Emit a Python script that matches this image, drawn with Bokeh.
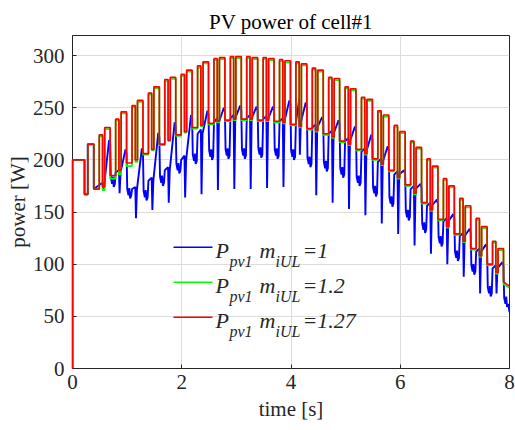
from bokeh.plotting import figure
from bokeh.models import Range1d, FixedTicker, Label
from bokeh.embed import file_html
from bokeh.resources import INLINE

# ---------------- data ----------------
# switching pairs: each pair = a narrow pulse then a wide pulse [s]
narrow_on  = [0.00, 0.49, 0.79, 1.09, 1.39, 1.69, 1.99, 2.29, 2.59, 2.89, 3.19, 3.49, 3.79,
              4.09, 4.39, 4.69, 4.99, 5.29, 5.59, 5.89, 6.19, 6.49, 6.79, 7.09, 7.39, 7.69]
narrow_off = [0.22, 0.55, 0.85, 1.15, 1.45, 1.75, 2.05, 2.35, 2.65, 2.95, 3.25, 3.55, 3.85,
              4.15, 4.45, 4.75, 5.05, 5.35, 5.65, 5.95, 6.25, 6.55, 6.85, 7.15, 7.45, 7.75]
wide_on    = [0.28, 0.59, 0.89, 1.19, 1.49, 1.79, 2.09, 2.39, 2.69, 2.99, 3.29, 3.59, 3.89,
              4.19, 4.49, 4.79, 5.09, 5.39, 5.69, 5.99, 6.29, 6.59, 6.89, 7.19, 7.49, 7.79]
wide_off   = [0.39, 0.69, 0.99, 1.29, 1.59, 1.89, 2.19, 2.49, 2.79, 3.09, 3.39, 3.69, 3.99,
              4.29, 4.59, 4.89, 5.19, 5.49, 5.79, 6.09, 6.39, 6.69, 6.99, 7.29, 7.59, 7.89]
t_end = 8.0

# m_iUL = 1.27 (red) [W]
red_narrow_top = [200, 224, 239, 252, 264, 277, 282, 290, 297, 299, 299, 298, 296,
                  294, 288, 279, 270, 260, 247, 233, 218, 201, 182, 163, 144, 122]
red_mid_low    = [167, 174, 190, 200, 210, 219, 227, 233, 237, 239, 239, 238, 236,
                  232, 228, 222, 215, 206, 196, 183, 168, 152, 136, 122, 108, 92]
red_wide_top   = [215, 231, 246, 257, 270, 279, 286, 294, 298, 299, 298, 297, 295,
                  292, 286, 278, 268, 258, 243, 227, 212, 194, 175, 156, 136, 115]
red_low        = [172, 185, 197, 206, 215, 224, 231, 235, 238, 239, 238, 237, 234,
                  230, 225, 218, 210, 201, 190, 176, 159, 143, 129, 115, 100, 83]
red_end = 79

# m_iUL = 1.2 (green) [W]
green_narrow_top = [200, 222.5, 237.5, 250.5, 262.5, 275.5, 280.5, 288.5, 295.5, 297.5, 297.5, 296.5, 294.5,
                    292.5, 286.5, 277.5, 268.5, 258.5, 245.5, 231.5, 216.5, 199.5, 180.5, 161.5, 142.5, 120.5]
green_mid_low    = [167, 171, 186, 198, 209, 218, 226, 232, 236, 238, 238, 237, 235,
                    231, 227, 221, 214, 205, 195, 182, 167, 151, 135, 121, 107, 91]
green_wide_top   = [215, 229.5, 244.5, 255.5, 268.5, 277.5, 284.5, 292.5, 296.5, 297.5, 296.5, 295.5, 293.5,
                    290.5, 284.5, 276.5, 266.5, 256.5, 241.5, 225.5, 210.5, 192.5, 173.5, 154.5, 134.5, 113.5]
green_low        = [172, 182, 194, 205, 214, 223, 230, 234, 237, 238, 237, 236, 233,
                    229, 224, 217, 209, 200, 189, 175, 158, 142, 128, 114, 99, 81]
green_end = 77

# m_iUL = 1 (blue), pairs 2..26 (first pair coincides with the red trace) [W]
blue_base  = [176, 188, 172, 180, 190, 200, 225, 236, 240, 240, 239, 237, 236,
              231, 225, 218, 208, 198, 186, 172, 156, 141, 127, 112, 96]
blue_pre   = [178, 190, 174, 183, 193, 204, 229, 240, 243, 243, 242, 240, 258,
              234, 228, 221, 211, 201, 189, 175, 159, 144, 130, 115, 99]
blue_dip   = [172, 168, 144, 152, 159, 164, 167, 171, 172, 172, 173, 174, 205,
              166, 159, 153, 147, 139, 129, 118, 110, 100, 88, 72, 72]
blue_peak  = [219, 210, 211, 226, 236, 243, 247, 250, 252, 251, 251, 257, 255,
              241, 238, 232, 224, 213, 190, 177, 162, 148, 134, 119, 102]
blue_shelf = [177, 166, 164, 178, 190, 199, 203, 204, 204, 205, 204, 203, 196,
              192, 186, 178, 168, 158, 145, 133, 120, 106, 93, 72, 62]
blue_end = 54

x_ticks = [0, 2, 4, 6, 8]
y_ticks = [0, 50, 100, 150, 200, 250, 300]
legend_labels = ["=1", "=1.2", "=1.27"]
series_colors = ["#0000ff", "#00ff00", "#ff0000"]


def pulse_path(tn, ml, tw, lo, end_v):
    xs, ys = [], []
    prev = 0.0
    for k in range(len(narrow_on)):
        xs += [narrow_on[k], narrow_on[k], narrow_off[k], narrow_off[k],
               wide_on[k], wide_on[k], wide_off[k], wide_off[k]]
        ys += [prev, tn[k], tn[k], ml[k], ml[k], tw[k], tw[k], lo[k]]
        prev = lo[k]
    xs.append(t_end)
    ys.append(end_v)
    return xs, ys


rx, ry = pulse_path(red_narrow_top, red_mid_low, red_wide_top, red_low, red_end)
gx, gy = pulse_path(green_narrow_top, green_mid_low, green_wide_top, green_low, green_end)

# blue: first pair identical to red, then its own shape per pair
bx = rx[:8]
by = ry[:8]
for j in range(len(blue_base)):
    k = j + 1
    a = narrow_off[k]
    b = wide_off[k]
    bx += [narrow_on[k], a, a + 0.012, a + 0.03, b - 0.02, b,
           b + 0.012, b + 0.035, b + 0.05, b + 0.065, b + 0.085]
    by += [blue_base[j], blue_pre[j], blue_dip[j], blue_base[j], blue_peak[j], blue_peak[j] - 4,
           blue_shelf[j] + 6, blue_shelf[j], blue_shelf[j] + 7, blue_shelf[j] - 3, blue_shelf[j]]
bx.append(t_end)
by.append(blue_end)

# ---------------- figure ----------------
FONT = "Liberation Serif"
INK = "#262626"

p = figure(width=515, height=430, output_backend="svg", toolbar_location=None,
           x_range=Range1d(0, 8), y_range=Range1d(0, 319.2),
           min_border_left=72, min_border_right=6, min_border_top=35, min_border_bottom=62,
           title="PV power of cell#1")
p.title.align = "center"
p.title.text_font = FONT
p.title.text_font_size = "21px"
p.title.text_font_style = "normal"
p.title.text_color = "#000000"
p.title.standoff = 4

p.outline_line_color = INK
p.outline_line_width = 1
p.background_fill_color = "white"
p.border_fill_color = "white"

p.xaxis.ticker = FixedTicker(ticks=x_ticks)
p.yaxis.ticker = FixedTicker(ticks=y_ticks)
p.xgrid.ticker = FixedTicker(ticks=x_ticks)
p.ygrid.ticker = FixedTicker(ticks=y_ticks)
p.grid.grid_line_color = "#dcdcdc"
p.grid.grid_line_width = 1

for ax in (p.xaxis[0], p.yaxis[0]):
    ax.major_tick_in = 4
    ax.major_tick_out = 0
    ax.minor_tick_in = 0
    ax.minor_tick_out = 0
    ax.axis_line_color = INK
    ax.major_tick_line_color = INK
    ax.major_label_text_font = FONT
    ax.major_label_text_font_size = "21px"
    ax.major_label_text_color = INK
    ax.axis_label_text_font = FONT
    ax.axis_label_text_font_size = "21px"
    ax.axis_label_text_font_style = "normal"
    ax.axis_label_text_color = INK

p.xaxis.axis_label = "time [s]"
p.yaxis.axis_label = "power [W]"
p.xaxis.major_label_standoff = 6
p.yaxis.major_label_standoff = 8
p.xaxis.axis_label_standoff = 5
p.yaxis.axis_label_standoff = 0

p.line(bx, by, line_color=series_colors[0], line_width=1.9)
p.line(gx, gy, line_color=series_colors[1], line_width=1.7)
red_r = p.line(rx, ry, line_color=series_colors[2], line_width=1.7)
red_r.level = "overlay"

# ---------------- hand-made legend (layout in reference pixels) ----------------
def dx(px):
    return (px - 72) / 54.625


def dy(py):
    return (368 - py) / 1.0433


row_base = [250, 285, 320]
for r in range(3):
    yb = row_base[r]
    p.line([dx(173), dx(212)], [dy(yb - 3.3), dy(yb - 3.3)],
           line_color=series_colors[r], line_width=1.6)
    pieces = [("P", 215, yb, "22px"), ("pv1", 229, yb + 10.5, "16px"),
              ("m", 259, yb, "22px"), ("iUL", 275, yb + 10.5, "16px"),
              (legend_labels[r], 302, yb, "22px")]
    for txt, xp, yp, fs in pieces:
        p.add_layout(Label(x=dx(xp), y=dy(yp), text=txt, text_font=FONT,
                           text_font_style="italic", text_font_size=fs,
                           text_color=INK, text_baseline="alphabetic"))

open("out.html", "w").write(file_html(p, INLINE))
